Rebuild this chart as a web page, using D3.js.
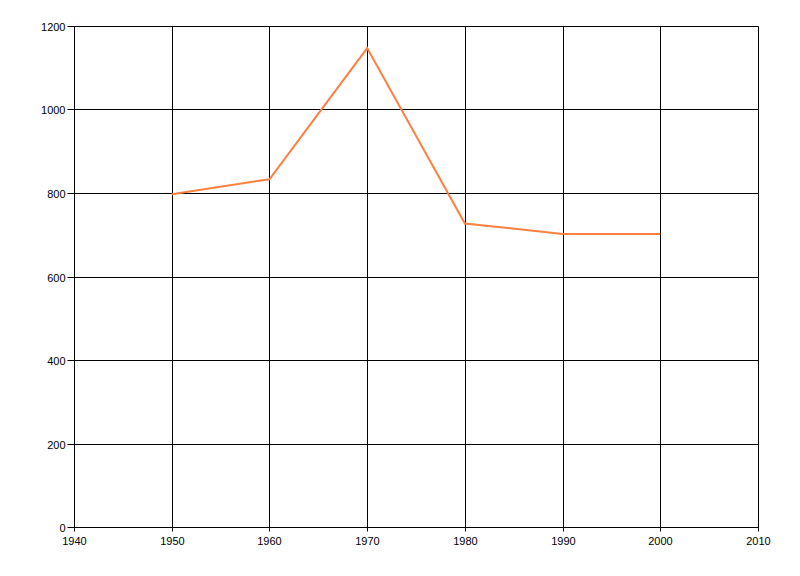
<!DOCTYPE html>
<html><head><meta charset="utf-8">
<script src="https://cdn.jsdelivr.net/npm/d3@7"></script>
<style>body{margin:0;background:#fff}svg{display:block}text{font-family:"Liberation Sans",Arial,sans-serif;font-size:11px;fill:#000}</style>
</head><body><svg id="c" width="800" height="576"></svg>
<script>
const years = [1950, 1960, 1970, 1980, 1990, 2000];
const values = [797, 833, 1147, 727, 702, 702];
const xTicks = [1940, 1950, 1960, 1970, 1980, 1990, 2000, 2010];
const yTicks = [0, 200, 400, 600, 800, 1000, 1200];

const svg = d3.select("#c");
const L = 74, R = 758, T = 26, B = 527;
const x = d3.scaleLinear().domain([1940, 2010]).range([L, R]);
const y = d3.scaleLinear().domain([0, 1200]).range([B, T]);
const g = svg.append("g").attr("transform", "translate(0.5,0.5)");

// grid
g.selectAll(".vg").data(xTicks).enter().append("line")
  .attr("x1", d => Math.round(x(d))).attr("x2", d => Math.round(x(d)))
  .attr("y1", T).attr("y2", B + 4).attr("stroke", "#000");
g.selectAll(".hg").data(yTicks).enter().append("line")
  .attr("x1", L - 7).attr("x2", R)
  .attr("y1", d => Math.round(y(d))).attr("y2", d => Math.round(y(d))).attr("stroke", "#000");

// labels
g.selectAll(".yl").data(yTicks).enter().append("text")
  .attr("x", L - 9).attr("y", d => Math.round(y(d)) + 4)
  .attr("text-anchor", "end").text(d => d);
g.selectAll(".xl").data(xTicks).enter().append("text")
  .attr("x", d => Math.round(x(d))).attr("y", B + 17)
  .attr("text-anchor", "middle").text(d => d);

// line
const line = d3.line().x((d, i) => x(years[i])).y(d => y(d));
svg.append("path").datum(values).attr("d", line)
  .attr("fill", "none").attr("stroke", "#ff7f3f").attr("stroke-width", 2)
  .attr("stroke-linejoin", "miter");
</script></body></html>
